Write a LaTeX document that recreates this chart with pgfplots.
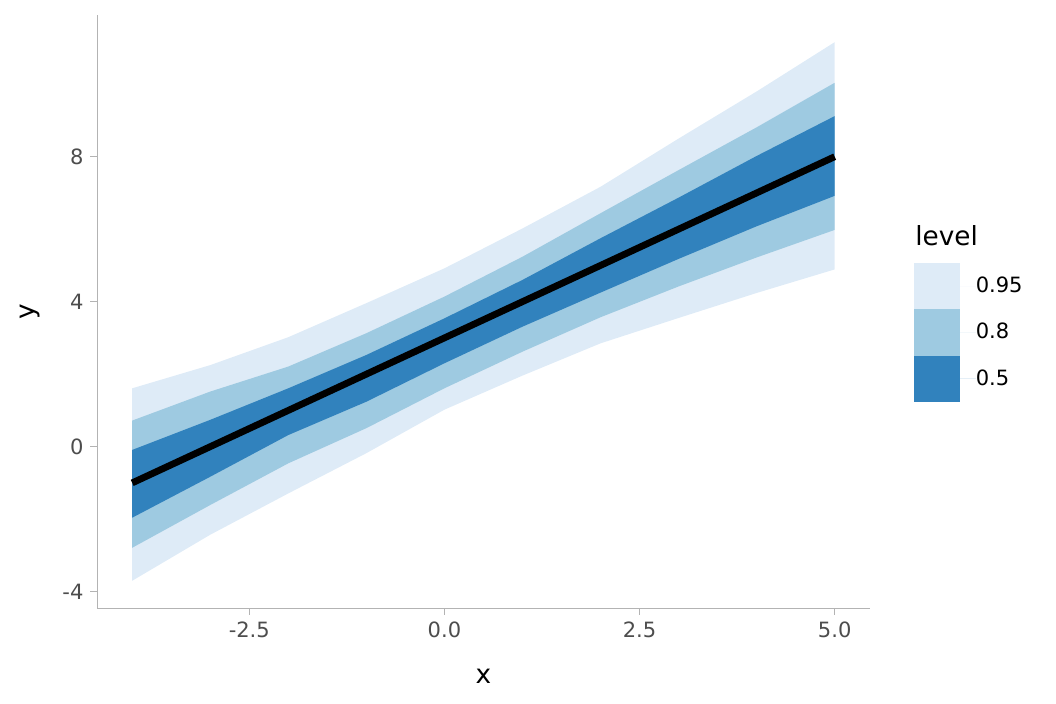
\documentclass[border=0pt]{standalone}
\usepackage{pgfplots}
\pgfplotsset{compat=1.18}
\usepackage{fontspec}
\setmainfont{DejaVu Sans}
\definecolor{c95}{HTML}{DEEBF7}
\definecolor{c80}{HTML}{9ECAE1}
\definecolor{c50}{HTML}{3182BD}
\definecolor{axgray}{HTML}{B3B3B3}
\definecolor{tkgray}{HTML}{4D4D4D}
\begin{document}
\begin{tikzpicture}
\path[use as bounding box] (0,0) rectangle (528bp,352bp);
\begin{axis}[
  at={(48.55bp,47.85bp)}, anchor=south west,
  scale only axis, width=386.35bp, height=296.65bp,
  xmin=-4.45, xmax=5.45, ymin=-4.46, ymax=11.91,
  clip=false,
  axis x line*=bottom, axis y line*=left,
  axis line style={color=axgray, line width=0.6bp},
  tick align=outside, major tick length=3.3bp,
  tick style={color=axgray, line width=0.6bp},
  xtick={-2.5,0,2.5,5}, xticklabels={-2.5,0.0,2.5,5.0},
  ytick={-4,0,4,8}, yticklabels={-4,0,4,8},
  ticklabel style={font=\fontsize{10.56}{12}\selectfont, text=tkgray},
  xlabel={x}, ylabel={y},
  label style={font=\fontsize{13.2}{15}\selectfont},
  xlabel style={at={(axis description cs:0.5,0)}, anchor=base, yshift=-37.85bp},
  ylabel style={at={(axis description cs:0,0.5)}, anchor=base, yshift=31.35bp},
  legend style={at={(axis description cs:1.0569,0.5818)}, anchor=north west,
    draw=none, fill=none, inner sep=0pt, outer sep=0pt, row sep=0pt,
    column sep=0pt,
    font=\fontsize{10.56}{12}\selectfont,
    nodes={inner sep=0pt, outer sep=0pt}},
  legend cell align=left,
  legend image code/.code={\fill[#1] (0bp,-11.58bp) rectangle (23.16bp,11.58bp); \path (23.16bp,0) -- (31bp,0);},
]
% 0.95 band
\addplot[fill=c95, draw=none] coordinates {
 (-4,1.61) (-3,2.25) (-2,3.02) (-1,3.96) (0,4.92) (1,6.02) (2,7.17) (3,8.50) (4,9.80) (5,11.16)
 (5,4.89) (4,4.24) (3,3.55) (2,2.85) (1,1.96) (0,1.02) (-1,-0.18) (-2,-1.29) (-3,-2.43) (-4,-3.70)
} -- cycle;
\addlegendentry{0.95}
% 0.8 band
\addplot[fill=c80, draw=none] coordinates {
 (-4,0.72) (-3,1.52) (-2,2.21) (-1,3.13) (0,4.14) (1,5.24) (2,6.44) (3,7.63) (4,8.81) (5,10.04)
 (5,5.98) (4,5.22) (3,4.42) (2,3.57) (1,2.62) (0,1.61) (-1,0.51) (-2,-0.46) (-3,-1.61) (-4,-2.79)
} -- cycle;
\addlegendentry{0.8}
% 0.5 band
\addplot[fill=c50, draw=none] coordinates {
 (-4,-0.09) (-3,0.74) (-2,1.61) (-1,2.53) (0,3.54) (1,4.60) (2,5.75) (3,6.87) (4,8.02) (5,9.12)
 (5,6.92) (4,6.08) (3,5.18) (2,4.25) (1,3.31) (0,2.30) (-1,1.24) (-2,0.32) (-3,-0.83) (-4,-1.96)
} -- cycle;
\addlegendentry{0.5}
% median line
\addplot[black, line width=3.4bp, forget plot] coordinates {
 (-4,-1) (-3,0) (-2,1) (-1,2) (0,3) (1,4) (2,5) (3,6) (4,7) (5,8)
};
\node[anchor=base west, inner sep=0pt, font=\fontsize{13.2}{15}\selectfont]
  at (axis description cs:1.0585,0.6123) {level};
\end{axis}
\end{tikzpicture}
\end{document}
